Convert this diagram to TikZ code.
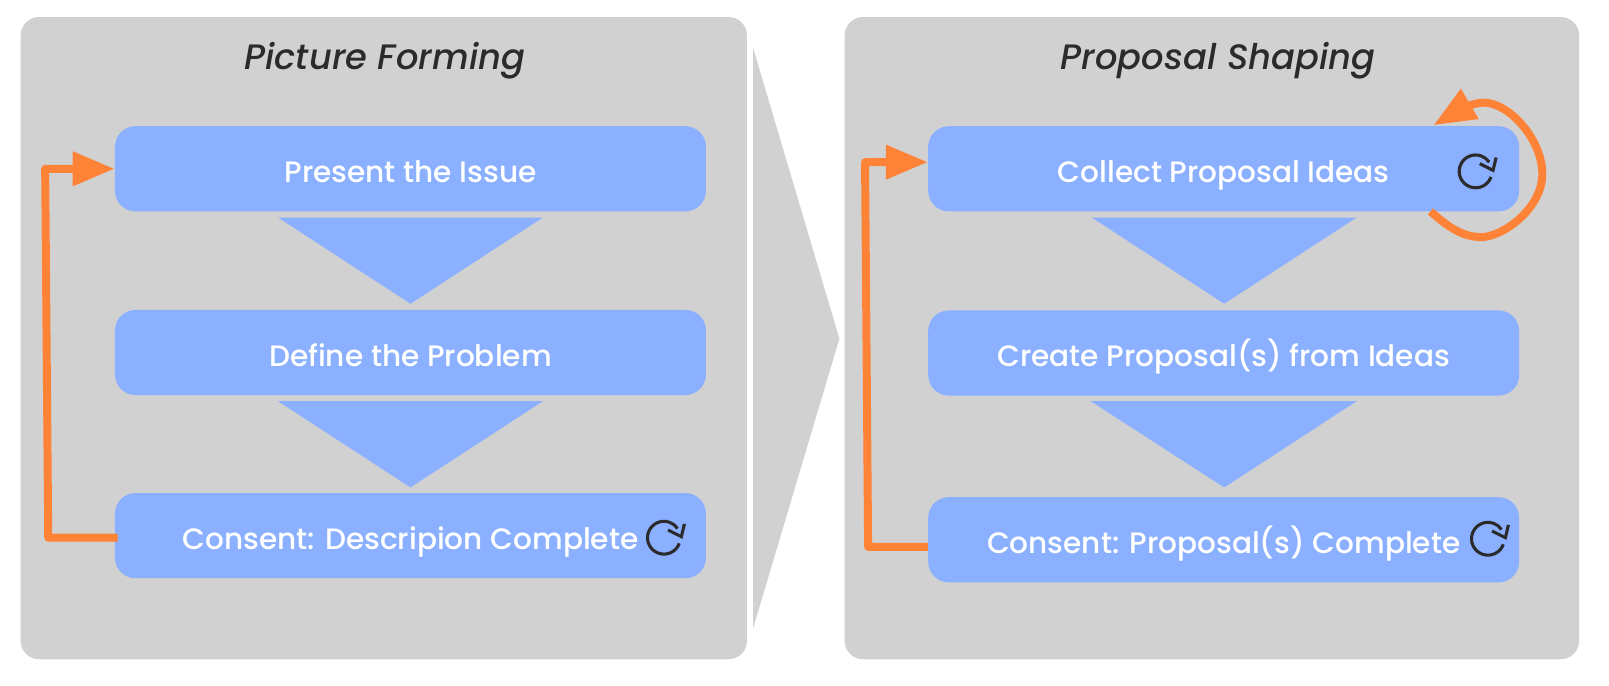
\documentclass[tikz,border=0pt]{standalone}
\usepackage{fontspec}
\setmainfont{Poppins Medium}[ItalicFont={Poppins Medium Italic}]
\usetikzlibrary{arrows.meta}
\definecolor{panelgray}{HTML}{D1D1D1}
\definecolor{stepblue}{HTML}{8AB0FF}
\definecolor{loopred}{HTML}{FF8336}
\definecolor{inkgray}{HTML}{2B2B2B}
\tikzset{
    panelbox/.style={fill=panelgray,rounded corners=0.36cm,minimum height=12.52cm},
    stepbox/.style={fill=stepblue,rounded corners=0.4cm,minimum width=11.52cm,minimum height=1.66cm,
        inner sep=0pt,text=white,text height=0.64cm,text depth=0.1cm,
        font=\fontsize{16.4}{18}\selectfont},
    paneltitle/.style={text=inkgray,inner sep=0pt,font=\fontsize{19.6}{22}\selectfont\itshape},
    looparrow/.style={draw=loopred,line width=0.155cm,line join=round,
        -{Triangle[length=0.82cm,width=0.64cm]}},
    reload/.pic={
        \draw[inkgray,line width=0.06cm] (-20:0.32cm) arc[start angle=-20,end angle=-326,radius=0.32cm];
        \draw[inkgray,line width=0.06cm] (0.08cm,0.15cm) -- (0.34cm,0.02cm) -- (0.40cm,0.27cm);
    }
}
\begin{document}
\begin{tikzpicture}[x=0.02cm,y=-0.02cm]
    \useasboundingbox (0,0) rectangle (1568,667.6);

    \node[panelbox,minimum width=14.16cm] (forming) at (374,329.5) {};
    \node[panelbox,minimum width=14.32cm] (shaping) at (1181,329.5) {};
    \fill[panelgray] (734,47) -- (818,330) -- (734,612) -- cycle;

    \node[paneltitle] (formingtitle) at (375,59) {Picture Forming};
    \node[paneltitle] (shapingtitle) at (1187,59) {Proposal Shaping};

    \node[stepbox] (issue) at (400,164.5) {Present the Issue};
    \node[stepbox] (problem) at (400,343.5) {Define the Problem};
    \node[stepbox] (description) at (400,522) {Consent: Descripion Complete};

    \node[stepbox] (ideas) at (1192.5,164.5) {Collect Proposal Ideas};
    \node[stepbox] (create) at (1192.5,344) {Create Proposal(s) from Ideas};
    \node[stepbox] (complete) at (1192.5,526) {Consent: Proposal(s) Complete};

    \fill[stepblue] (271,212) -- (529,212) -- (400,296) -- cycle;
    \fill[stepblue] (271,391) -- (529,391) -- (400,475) -- cycle;
    \fill[stepblue] (1064,212) -- (1322,212) -- (1193,296) -- cycle;
    \fill[stepblue] (1063,391) -- (1322,391) -- (1193,475) -- cycle;

    \pic at (647,524) {reload};
    \pic at (1438,167) {reload};
    \pic at (1450,525) {reload};

    \coordinate (leftlow) at (47,524);
    \coordinate (lefthigh) at (44,164.5);
    \coordinate (rightlow) at (846,533);
    \coordinate (righthigh) at (843,158);
    \draw[looparrow] ([xshift=0.06cm,yshift=-0.04cm]description.west) -- (leftlow) -- (lefthigh) -- (issue.west);
    \draw[looparrow] ([yshift=-0.14cm]complete.west) -- (rightlow) -- (righthigh) -- ([yshift=0.13cm]ideas.west);

    \coordinate (loopstart) at (1394,206);
    \coordinate (looptip) at (1397,122);
    \draw[looparrow] (loopstart) .. controls (1410,220) and (1425,232) .. (1446,231)
        .. controls (1470,228) and (1503,200) .. (1503,170)
        .. controls (1503,135) and (1470,100) .. (1446,100)
        .. controls (1432,100) and (1414,112) .. (looptip);
\end{tikzpicture}
\end{document}
